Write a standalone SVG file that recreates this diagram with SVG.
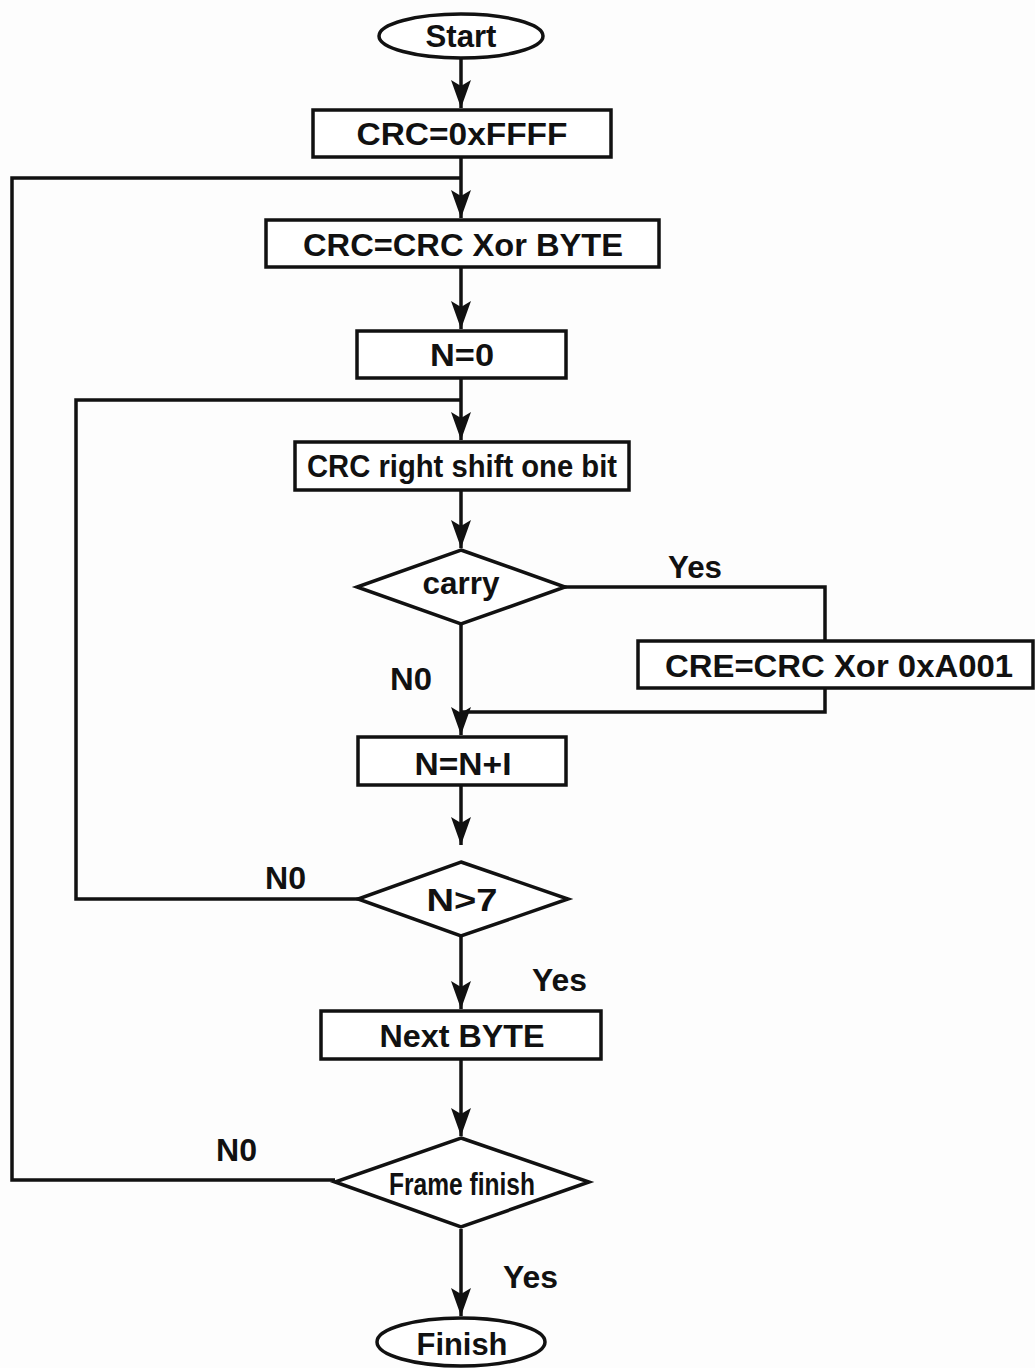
<svg xmlns="http://www.w3.org/2000/svg" width="1035" height="1368" viewBox="0 0 1035 1368">
<defs>
<marker id="ah" viewBox="0 0 28 20" refX="28" refY="10" markerWidth="28" markerHeight="20" markerUnits="userSpaceOnUse" orient="auto">
<path d="M0,0 L28,10 L0,20 L6,10 Z" fill="#111"/>
</marker>
</defs>
<style>
.s{fill:none;stroke:#111;stroke-width:3.5}
.n{fill:#fff;stroke:#111;stroke-width:3.5}
.t{font-family:"Liberation Sans",Arial,sans-serif;font-weight:bold;font-size:31px;fill:#111;text-anchor:middle}
.l{font-family:"Liberation Sans",Arial,sans-serif;font-weight:bold;font-size:31px;fill:#111}
</style>
<rect width="1035" height="1368" fill="#fdfdfd"/>
<g id="connectors">
<path class="s" d="M461,58 V108" marker-end="url(#ah)"/>
<path class="s" d="M461,157 V218" marker-end="url(#ah)"/>
<path class="s" d="M461,267 V329" marker-end="url(#ah)"/>
<path class="s" d="M461,378 V440" marker-end="url(#ah)"/>
<path class="s" d="M461,490 V548" marker-end="url(#ah)"/>
<path class="s" d="M461,624 V735" marker-end="url(#ah)"/>
<path class="s" d="M565,587 H825 V641"/>
<path class="s" d="M825,688 V712 H461"/>
<path class="s" d="M461,785 V845" marker-end="url(#ah)"/>
<path class="s" d="M358,899 H76 V400 H461"/>
<path class="s" d="M461,936 V1009" marker-end="url(#ah)"/>
<path class="s" d="M461,1059 V1136" marker-end="url(#ah)"/>
<path class="s" d="M335,1180 H12 V178 H461"/>
<path class="s" d="M461,1229 V1316" marker-end="url(#ah)"/>
<text class="l" x="668" y="578" textLength="54" lengthAdjust="spacingAndGlyphs">Yes</text>
<text class="l" x="390" y="690" textLength="42" lengthAdjust="spacingAndGlyphs">N0</text>
<text class="l" x="265" y="889" textLength="41" lengthAdjust="spacingAndGlyphs">N0</text>
<text class="l" x="532" y="991" textLength="55" lengthAdjust="spacingAndGlyphs">Yes</text>
<text class="l" x="216" y="1161" textLength="41" lengthAdjust="spacingAndGlyphs">N0</text>
<text class="l" x="503" y="1288" textLength="55" lengthAdjust="spacingAndGlyphs">Yes</text>
</g>
<g id="start">
<ellipse class="n" cx="461" cy="36" rx="82" ry="22"/>
<text class="t" x="461" y="47" textLength="71" lengthAdjust="spacingAndGlyphs">Start</text>
</g>
<g id="init">
<rect class="n" x="313" y="110" width="298" height="47"/>
<text class="t" x="462" y="145" textLength="211" lengthAdjust="spacingAndGlyphs">CRC=0xFFFF</text>
</g>
<g id="xorbyte">
<rect class="n" x="266" y="220" width="393" height="47"/>
<text class="t" x="463" y="256" textLength="320" lengthAdjust="spacingAndGlyphs">CRC=CRC Xor BYTE</text>
</g>
<g id="n0">
<rect class="n" x="357" y="331" width="209" height="47"/>
<text class="t" x="462" y="366" textLength="64" lengthAdjust="spacingAndGlyphs">N=0</text>
</g>
<g id="shift">
<rect class="n" x="295" y="442" width="334" height="48"/>
<text class="t" x="462" y="477" textLength="310" lengthAdjust="spacingAndGlyphs">CRC right shift one bit</text>
</g>
<g id="carry">
<polygon class="n" points="461,550 565,587 461,624 357,587"/>
<text class="t" x="461" y="594" textLength="77" lengthAdjust="spacingAndGlyphs">carry</text>
</g>
<g id="xorpoly">
<rect class="n" x="638" y="641" width="395" height="47"/>
<text class="t" x="839" y="677" textLength="348" lengthAdjust="spacingAndGlyphs">CRE=CRC Xor 0xA001</text>
</g>
<g id="inc">
<rect class="n" x="358" y="737" width="208" height="48"/>
<text class="t" x="463" y="775" textLength="97" lengthAdjust="spacingAndGlyphs">N=N+I</text>
</g>
<g id="ngt7">
<polygon class="n" points="461,862 568,899 461,936 358,899"/>
<text class="t" x="462" y="911" textLength="71" lengthAdjust="spacingAndGlyphs">N&gt;7</text>
</g>
<g id="next">
<rect class="n" x="321" y="1011" width="280" height="48"/>
<text class="t" x="462" y="1047" textLength="165" lengthAdjust="spacingAndGlyphs">Next BYTE</text>
</g>
<g id="frame">
<polygon class="n" points="461,1138 589,1182 461,1227 335,1182"/>
<text class="t" x="462" y="1195" textLength="146" lengthAdjust="spacingAndGlyphs">Frame finish</text>
</g>
<g id="finish">
<ellipse class="n" cx="461" cy="1342" rx="84" ry="24"/>
<text class="t" x="462" y="1355" textLength="91" lengthAdjust="spacingAndGlyphs">Finish</text>
</g>
</svg>
